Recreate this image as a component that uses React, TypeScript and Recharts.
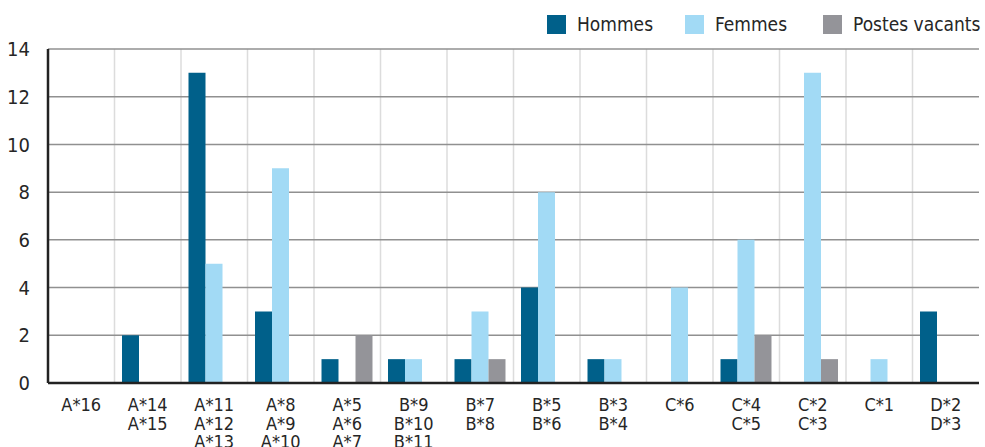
import { Bar, BarChart, CartesianGrid, XAxis, YAxis } from "recharts";

const categories = [
  "A*16",
  "A*14\nA*15",
  "A*11\nA*12\nA*13",
  "A*8\nA*9\nA*10",
  "A*5\nA*6\nA*7",
  "B*9\nB*10\nB*11",
  "B*7\nB*8",
  "B*5\nB*6",
  "B*3\nB*4",
  "C*6",
  "C*4\nC*5",
  "C*2\nC*3",
  "C*1",
  "D*2\nD*3",
];
const hommes = [0, 2, 13, 3, 1, 1, 1, 4, 1, 0, 1, 0, 0, 3];
const femmes = [0, 0, 5, 9, 0, 1, 3, 8, 1, 4, 6, 13, 1, 0];
const vacants = [0, 0, 0, 0, 2, 0, 1, 0, 0, 0, 2, 1, 0, 0];
const yTicks = [0, 2, 4, 6, 8, 10, 12, 14];

const series = [
  { key: "hommes", name: "Hommes", color: "#00608a" },
  { key: "femmes", name: "Femmes", color: "#a2daf5" },
  { key: "vacants", name: "Postes vacants", color: "#949499" },
];

const data = categories.map((cat, i) => ({
  cat,
  hommes: hommes[i],
  femmes: femmes[i],
  vacants: vacants[i],
}));

const FONT = "'Liberation Sans Narrow', 'DejaVu Sans Condensed', Arial, sans-serif";
const TEXT = "#262626";

const CatTick = ({ x, y, payload }: any) => {
  const lines = String(payload.value).split("\n");
  return (
    <text x={x} y={y} textAnchor="middle" fill={TEXT} fontSize={18} fontFamily={FONT}>
      {lines.map((l, i) => (
        <tspan key={i} x={x} dy={i === 0 ? 28 : 18.5}>
          {l}
        </tspan>
      ))}
    </text>
  );
};

export default function App() {
  return (
    <div style={{ position: "absolute", left: 0, top: 0, width: 985, height: 447, background: "#fff" }}>
      <div
        style={{
          position: "absolute",
          top: 9,
          left: 547,
          display: "flex",
          fontFamily: FONT,
          fontSize: 19,
          color: TEXT,
          lineHeight: "30px",
          whiteSpace: "nowrap",
        }}
      >
        {series.map((s, i) => (
          <div
            key={s.key}
            style={{ display: "flex", alignItems: "center", width: i < series.length - 1 ? 138 : undefined }}
          >
            <span style={{ width: 19, height: 19, background: s.color, display: "inline-block", marginRight: 11 }} />
            <span>{s.name}</span>
          </div>
        ))}
      </div>
      <BarChart
        width={985}
        height={447}
        data={data}
        margin={{ top: 49, right: 6, bottom: 0, left: 0 }}
        barCategoryGap={7.5}
        barGap={0}
      >
        <CartesianGrid
          horizontal={false}
          stroke="#dcdcdc"
          strokeWidth={1.5}
          verticalCoordinatesGenerator={({ offset }: any) =>
            categories.slice(1).map((_, i) => offset.left + ((i + 1) * offset.width) / categories.length)
          }
        />
        <CartesianGrid vertical={false} stroke="#909090" strokeWidth={1.5} />
        <XAxis
          dataKey="cat"
          interval={0}
          height={64}
          tickSize={0}
          tickMargin={0}
          tick={<CatTick />}
          axisLine={{ stroke: "#222", strokeWidth: 2.5 }}
        />
        <XAxis
          xAxisId="top"
          orientation="top"
          dataKey="cat"
          height={0}
          tick={false}
          tickLine={false}
          axisLine={{ stroke: "#222", strokeWidth: 2.5 }}
        />
        <YAxis
          domain={[0, 14]}
          ticks={yTicks}
          width={48}
          tickSize={0}
          tickMargin={18}
          axisLine={{ stroke: "#222", strokeWidth: 2.5 }}
          tick={{ fill: TEXT, fontSize: 20, fontFamily: FONT }}
        />
        <YAxis
          yAxisId="right"
          orientation="right"
          domain={[0, 14]}
          width={0}
          tick={false}
          tickLine={false}
          axisLine={{ stroke: "#222", strokeWidth: 2.5 }}
        />
        {series.map((s) => (
          <Bar key={s.key} dataKey={s.key} name={s.name} fill={s.color} isAnimationActive={false} />
        ))}
      </BarChart>
    </div>
  );
}
